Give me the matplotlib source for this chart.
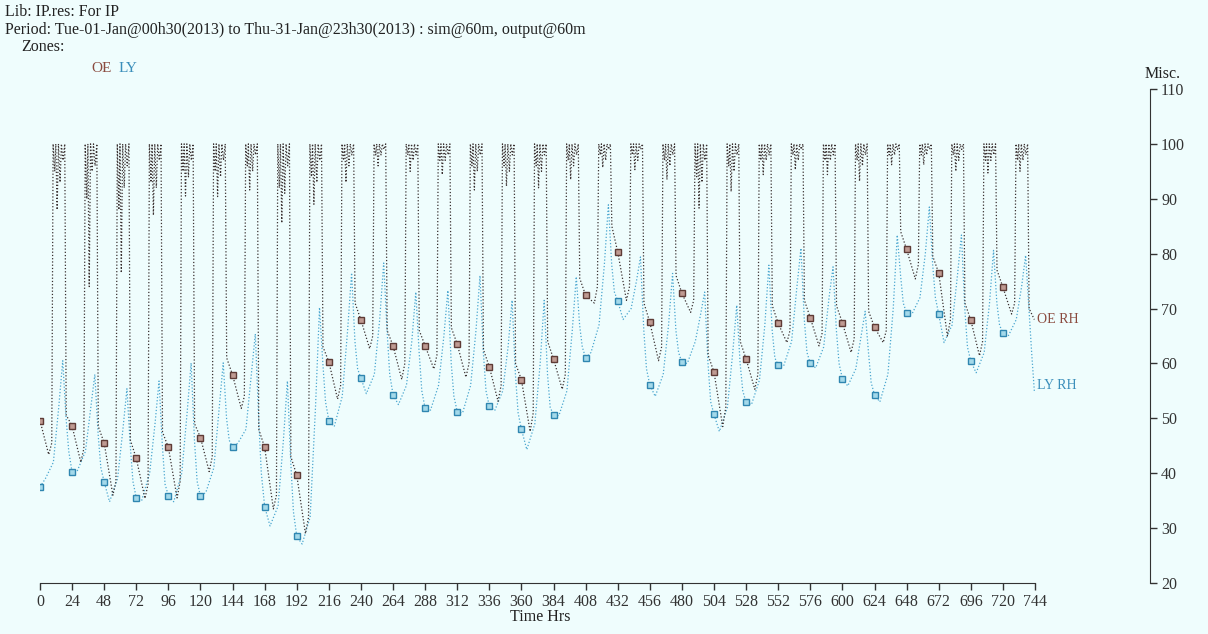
import numpy as np
import matplotlib.pyplot as plt

# Hourly RH for two zones, Jan 2013 (hours from 01-Jan 00h30)
DAYS = 31

# sample hours inside each day (OE has the 100% plateau with controller hunting)
OE_DAY_HOURS = [0, 6.5, 8.8, 9.8, 11.0, 11.8, 12.8, 13.8, 15.0, 16.0, 17.2, 18.5, 19.6]
OE_RH = [
    49.6, 43.4, 45.5, 100, 95, 100, 88.0, 100, 93, 100, 97, 100, 50.6,
    48.6, 42.0, 44.5, 100, 90, 100, 74.0, 100, 95, 100, 96, 100, 48.5,
    45.5, 36.0, 38.5, 100, 88, 100, 76.5, 100, 92, 100, 96, 100, 46.0,
    42.7, 35.4, 38.0, 100, 93, 100, 87.0, 100, 92, 100, 97, 100, 47.5,
    44.7, 35.5, 38.5, 100, 95, 100, 90.5, 100, 94, 100, 97, 100, 49.0,
    46.5, 40.3, 43.0, 100, 95, 100, 90.4, 100, 94, 100, 97, 100, 61.0,
    57.9, 51.8, 54.0, 100, 96, 100, 91.6, 100, 95, 100, 98, 100, 48.0,
    44.7, 33.5, 36.0, 100, 92, 100, 85.6, 100, 91, 100, 96, 100, 43.0,
    39.6, 29.0, 32.0, 100, 94, 100, 89.0, 100, 93, 100, 97, 100, 63.0,
    60.3, 53.5, 56.0, 100, 97, 100, 93.0, 100, 96, 100, 98, 100, 71.0,
    67.9, 62.7, 65.0, 100, 98, 100, 96.0, 100, 98, 100, 99, 100, 66.0,
    63.2, 57.1, 60.0, 100, 98, 100, 95.0, 100, 97, 100, 98, 100, 66.0,
    63.2, 59.0, 61.5, 100, 97, 100, 94.4, 100, 97, 100, 98, 100, 66.5,
    63.5, 57.5, 60.0, 100, 96, 100, 91.6, 100, 95, 100, 98, 100, 62.5,
    59.4, 53.1, 56.0, 100, 96, 100, 92.3, 100, 95, 100, 98, 100, 60.0,
    57.0, 47.6, 51.0, 100, 96, 100, 92.0, 100, 95, 100, 98, 100, 64.0,
    60.8, 55.3, 58.0, 100, 97, 100, 93.5, 100, 96, 100, 98, 100, 75.5,
    72.4, 71.0, 74.0, 100, 98, 100, 95.7, 100, 97, 100, 99, 100, 85.0,
    80.3, 71.5, 74.0, 100, 98, 100, 95.3, 100, 97, 100, 99, 100, 71.0,
    67.5, 60.5, 63.0, 100, 97, 100, 93.5, 100, 96, 100, 98, 100, 76.0,
    72.8, 69.3, 71.5, 100, 94, 100, 88.3, 100, 93, 100, 97, 100, 61.5,
    58.4, 48.5, 52.0, 100, 96, 100, 91.3, 100, 95, 100, 98, 100, 64.0,
    60.8, 55.3, 58.0, 100, 97, 100, 94.4, 100, 97, 100, 98, 100, 70.5,
    67.3, 63.8, 66.0, 100, 98, 100, 95.3, 100, 97, 100, 99, 100, 71.5,
    68.3, 63.2, 65.5, 100, 97, 100, 94.4, 100, 97, 100, 98, 100, 70.5,
    67.4, 62.0, 64.5, 100, 97, 100, 93.2, 100, 96, 100, 98, 100, 69.5,
    66.6, 63.8, 66.0, 100, 98, 100, 96.2, 100, 98, 100, 99, 100, 84.0,
    80.8, 75.4, 78.0, 100, 98, 100, 96.2, 100, 98, 100, 99, 100, 79.5,
    76.5, 65.0, 68.0, 100, 98, 100, 95.0, 100, 97, 100, 99, 100, 71.0,
    67.9, 61.4, 64.0, 100, 97, 100, 94.7, 100, 97, 100, 98, 100, 77.0,
    73.9, 69.0, 71.0, 100, 97, 100, 95.0, 100, 97, 100, 98, 100, 70.0,
]
OE_LAST = 68.0

LY_DAY_HOURS = [0, 4, 10, 14, 17, 19.5, 21.5]
LY_RH = [
    37.5, 39.0, 42.0, 52.0, 60.5, 50.0, 44.0,
    40.2, 40.5, 44.0, 52.0, 58.0, 47.0, 41.0,
    38.4, 34.8, 39.0, 48.0, 55.4, 45.0, 38.5,
    35.5, 35.0, 40.0, 49.0, 56.8, 45.0, 38.0,
    35.9, 34.8, 40.0, 51.0, 60.1, 46.0, 38.5,
    35.8, 36.5, 41.0, 52.0, 60.1, 50.0, 46.0,
    44.7, 45.5, 48.0, 58.0, 65.4, 50.0, 40.0,
    33.9, 30.4, 34.0, 46.0, 56.8, 42.0, 33.0,
    28.5, 27.1, 32.0, 52.0, 70.2, 60.0, 53.0,
    49.6, 48.5, 54.0, 66.0, 76.5, 64.0, 59.0,
    57.3, 54.5, 58.0, 68.0, 78.3, 66.0, 58.0,
    54.3, 52.5, 56.0, 64.0, 73.0, 62.0, 55.0,
    51.8, 51.5, 56.0, 65.0, 73.3, 60.0, 54.0,
    51.2, 51.0, 56.0, 66.0, 76.0, 62.0, 55.0,
    52.2, 51.4, 55.0, 63.0, 71.5, 58.0, 51.0,
    48.0, 44.3, 49.0, 60.0, 71.5, 58.0, 52.0,
    50.6, 50.5, 55.0, 66.0, 75.8, 67.0, 63.0,
    61.0, 62.0, 67.0, 78.0, 88.9, 78.0, 73.0,
    71.4, 68.0, 70.0, 75.0, 79.4, 66.0, 59.0,
    56.1, 54.0, 58.0, 67.0, 76.4, 66.0, 62.0,
    60.2, 60.0, 64.0, 69.0, 73.0, 60.0, 53.0,
    50.7, 47.6, 52.0, 62.0, 70.6, 60.0, 55.0,
    52.9, 52.5, 57.0, 67.0, 77.9, 66.0, 61.0,
    59.7, 59.5, 64.0, 74.0, 81.0, 68.0, 62.0,
    60.0, 59.2, 63.0, 72.0, 77.6, 66.0, 60.0,
    57.2, 55.9, 59.0, 65.0, 69.5, 62.0, 56.5,
    54.3, 53.0, 58.0, 70.0, 83.4, 76.0, 71.0,
    69.2, 69.0, 72.0, 80.0, 88.5, 78.0, 72.0,
    69.0, 63.8, 67.0, 76.0, 83.4, 70.0, 63.0,
    60.4, 58.3, 62.0, 71.0, 80.6, 71.0, 67.0,
    65.5, 65.0, 68.0, 74.0, 79.7, 70.0, 62.0,
]
LY_LAST = 55.0
END_HOUR = 743.5

X_TICKS = list(range(0, 745, 24))
Y_TICKS = list(range(20, 111, 10))

BG = "#effdfd"
INK = "#333333"
OE_TXT = "#8a4a3e"
LY_TXT = "#3b8fbb"

plt.rcParams["font.family"] = ["Liberation Serif", "DejaVu Serif"]


def series(day_hours, values, last):
    t = [24 * d + h for d in range(DAYS) for h in day_hours] + [END_HOUR]
    v = list(values) + [last]
    return np.array(t), np.array(v)


oe_t, oe_v = series(OE_DAY_HOURS, OE_RH, OE_LAST)
ly_t, ly_v = series(LY_DAY_HOURS, LY_RH, LY_LAST)

fig = plt.figure(figsize=(12.08, 6.34), dpi=100, facecolor=BG)
ax = fig.add_axes([40 / 1208, 1 - 583 / 634, 1110 / 1208, 494 / 634])
ax.set_facecolor(BG)
ax.set_xlim(0, 830)
ax.set_ylim(20, 110)

ax.plot(ly_t, ly_v, color="#4aa6cf", lw=0.9, ls=(0, (1, 1.6)), zorder=2)
ax.plot(oe_t, oe_v, color="#3a3030", lw=0.9, ls=(0, (1, 1.6)), zorder=3)

# daily markers at midnight samples
oe_mid = (oe_t % 24 == 0) & (oe_t < 744)
ly_mid = (ly_t % 24 == 0) & (ly_t < 744)
ax.plot(oe_t[oe_mid], oe_v[oe_mid], ls="none", marker="s", ms=4.5,
        mfc="#bf9a92", mec="#5e3b36", mew=1.0, zorder=5)
ax.plot(ly_t[ly_mid], ly_v[ly_mid], ls="none", marker="s", ms=4.5,
        mfc="#a3d9ea", mec="#2f86b0", mew=1.0, zorder=4)

ax.text(END_HOUR + 2, OE_LAST, "OE RH", color=OE_TXT, fontsize=10, va="center")
ax.text(END_HOUR + 2, LY_LAST + 1, "LY RH", color=LY_TXT, fontsize=10, va="center")

for s in ("top", "left"):
    ax.spines[s].set_visible(False)
ax.spines["bottom"].set_bounds(0, 744)
ax.spines["bottom"].set_color(INK)
ax.spines["right"].set_color(INK)
ax.yaxis.tick_right()
ax.set_xticks(X_TICKS)
ax.set_yticks(Y_TICKS)
ax.tick_params(direction="out", length=5, width=1, color=INK,
               labelcolor=INK, labelsize=11.5, pad=3)

fig.text(5 / 1208, 1 - 12 / 634, "Lib: IP.res: For IP", fontsize=11.5, color="#222", va="center")
fig.text(5 / 1208, 1 - 30 / 634,
         "Period: Tue-01-Jan@00h30(2013) to Thu-31-Jan@23h30(2013) : sim@60m, output@60m",
         fontsize=11.5, color="#222", va="center")
fig.text(21 / 1208, 1 - 47 / 634, "Zones:", fontsize=11.5, color="#222", va="center")
fig.text(91 / 1208, 1 - 68 / 634, "OE", fontsize=11, color=OE_TXT, va="center")
fig.text(119 / 1208, 1 - 68 / 634, "LY", fontsize=11, color=LY_TXT, va="center")
fig.text(1145 / 1208, 1 - 74 / 634, "Misc.", fontsize=11.5, color="#222", va="center")
fig.text(540 / 1208, 1 - 617 / 634, "Time Hrs", fontsize=11.5, color="#222", ha="center", va="center")

fig.savefig("out.png", dpi=100, facecolor=BG)
